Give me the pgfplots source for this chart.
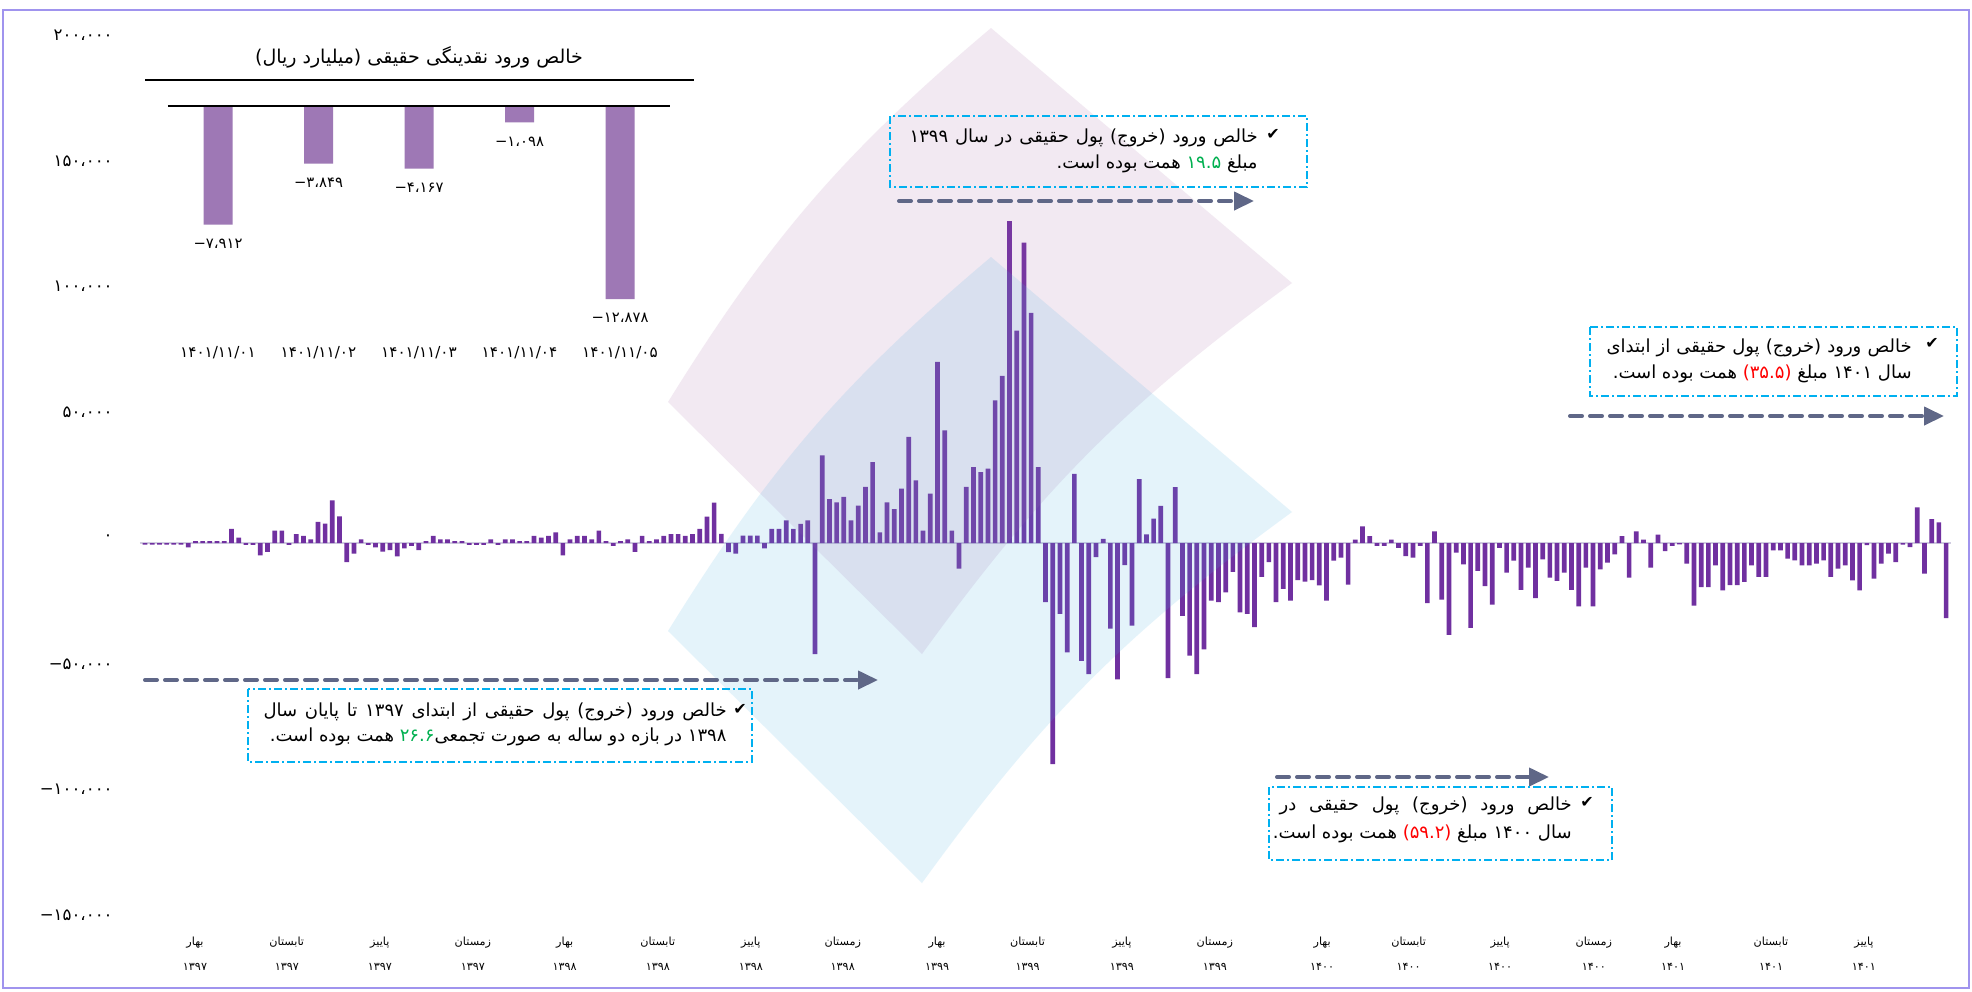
\documentclass[border=0pt]{standalone}
\usepackage{fontspec}
\usepackage{pgfplots}
\pgfplotsset{compat=1.18}
\usetikzlibrary{arrows.meta}
\TeXXeTstate=1
\newfontfamily\fa[Script=Arabic]{DejaVu Sans}
\newfontfamily\sym{DejaVu Sans}
\definecolor{barc}{RGB}{112,48,160}
\definecolor{insetc}{RGB}{158,120,181}
\definecolor{boxc}{RGB}{0,176,240}
\definecolor{arrc}{RGB}{95,103,135}
\definecolor{framec}{RGB}{160,148,238}
\definecolor{pinkc}{RGB}{168,102,168}
\definecolor{bluec}{RGB}{75,175,228}
\definecolor{grn}{RGB}{0,176,80}
\definecolor{rd}{RGB}{255,0,0}
\definecolor{zl}{RGB}{208,204,224}
\newcommand{\fs}[1]{\fontsize{#1}{#1}\selectfont}
\newcommand{\ngt}[1]{\hbox{−}\hbox{#1}}
\begin{document}
\begin{tikzpicture}[x=0.5bp,y=-0.5bp]
\useasboundingbox (0,0) rectangle (1972,991);
\fill[white] (0,0) rectangle (1972,991);
\draw[framec, line width=1bp] (3,10) rectangle (1969,988);

\coordinate (mainSW) at (120,940);
\begin{axis}[at={(mainSW)}, anchor=south west, scale only axis,
  width=920bp, height=460bp, clip=false,
  xmin=-3.47, xmax=251.94, ymin=-157915, ymax=208035,
  axis line style={draw=none}, major tick length=0pt,
  ytick={-150000,-100000,-50000,0,50000,100000,150000,200000},
  yticklabels={\ngt{۱۵۰،۰۰۰},\ngt{۱۰۰،۰۰۰},\ngt{۵۰،۰۰۰},۰,۵۰،۰۰۰,۱۰۰،۰۰۰,۱۵۰،۰۰۰,۲۰۰،۰۰۰},
  yticklabel style={font=\fa\fs{8.3bp}, anchor=east, inner sep=0pt, xshift=-3.5bp, yshift=2.5bp},
  xtick={6.94,19.68,32.59,45.52,58.26,71.18,84.09,96.85,109.94,122.5,135.6,148.5,163.4,175.4,188.1,201.1,212.1,225.7,238.6},
  xticklabels={{بهار\\۱۳۹۷},{تابستان\\۱۳۹۷},{پاییز\\۱۳۹۷},{زمستان\\۱۳۹۷},
    {بهار\\۱۳۹۸},{تابستان\\۱۳۹۸},{پاییز\\۱۳۹۸},{زمستان\\۱۳۹۸},
    {بهار\\۱۳۹۹},{تابستان\\۱۳۹۹},{پاییز\\۱۳۹۹},{زمستان\\۱۳۹۹},
    {بهار\\۱۴۰۰},{تابستان\\۱۴۰۰},{پاییز\\۱۴۰۰},{زمستان\\۱۴۰۰},
    {بهار\\۱۴۰۱},{تابستان\\۱۴۰۱},{پاییز\\۱۴۰۱}},
  xticklabel style={font=\fa\fontsize{5.6bp}{12.5bp}\selectfont, align=center, anchor=center, inner sep=0pt, yshift=-6.75bp},
]
\draw[zl, line width=1bp] (axis cs:-0.7,0) -- (axis cs:250.7,0);
\addplot[ybar, bar width=2.35bp, fill=barc, draw=none] table[x expr=\coordindex, y index=0, header=false] {
-600
-600
-600
-600
-600
-600
-1700
700
700
700
700
700
5600
2100
-700
-700
-4900
-3500
4900
4900
-700
3500
2800
1400
8400
7700
17000
10600
-7600
-4200
1400
-700
-1700
-3400
-2800
-5300
-2100
-1100
-2800
700
2800
1400
1400
700
700
-700
-700
-700
1400
-700
1400
1400
700
700
2800
2100
2800
4200
-4900
1400
2800
2800
1400
4900
700
-1100
700
1400
-3500
2800
700
1400
2800
3500
3500
2800
3500
5600
10500
16100
3600
-3600
-4200
2900
2900
2900
-2100
5600
5600
9000
5600
7600
9000
-44200
34900
17500
16200
18300
9000
14900
22300
32200
4200
16200
13500
21600
42200
24900
4900
19600
72000
44800
4900
-10200
22300
30200
28200
29600
56700
66500
128000
84500
119500
91500
30200
-23500
-88000
-28200
-43500
27500
-46900
-52200
-5600
1600
-34100
-54200
-8800
-32900
25400
3400
9700
14800
-53700
22200
-29000
-44800
-52200
-42300
-22900
-23500
-19600
-11500
-27600
-28200
-33500
-13500
-7600
-23500
-18200
-22900
-14800
-15400
-14800
-16900
-22900
-7000
-5800
-16600
1300
6600
2700
-1100
-1100
1300
-1900
-5200
-5800
-1100
-23900
4600
-22500
-36500
-3800
-8500
-33800
-11100
-17200
-24500
-1900
-11800
-7000
-18600
-9800
-21900
-6500
-13800
-15100
-11800
-18600
-25200
-9800
-25200
-10500
-7800
-4500
2700
-13800
4600
1300
-9800
3300
-3200
-1100
-500
-8200
-24900
-17500
-17500
-8900
-18800
-16800
-16800
-15500
-8900
-13500
-13500
-2900
-2900
-6200
-6900
-8900
-8900
-8200
-6900
-13500
-10200
-8900
-14900
-18800
-800
-14200
-8200
-4200
-7600
-600
-1600
14200
-12200
9500
8200
-29904
};
\end{axis}

% decorative shapes (semi-transparent, on top of bars)
\fill[pinkc, opacity=0.14] (668,402) to[bend left=9] (991,28) -- (1292,283) to[bend right=9] (922,654) -- cycle;
\fill[bluec, opacity=0.15] (668,631) to[bend left=9] (991,257) -- (1292,512) to[bend right=9] (922,883) -- cycle;

% inset
\node[font=\fa\fs{9.5bp}] at (419,57) {\beginR خالص ورود نقدینگی حقیقی (میلیارد ریال)\endR};
\draw[black, line width=1bp] (145,80) -- (694,80);
\coordinate (insSW) at (167.75,316);
\begin{axis}[at={(insSW)}, anchor=south west, scale only axis,
  width=251.25bp, height=105bp, clip=false,
  xmin=0.5, xmax=5.5, ymin=-14000, ymax=0,
  axis line style={draw=none}, major tick length=0pt, ytick=\empty,
  xtick={1,2,3,4,5},
  xticklabels={۱۴۰۱/۱۱/۰۱,۱۴۰۱/۱۱/۰۲,۱۴۰۱/۱۱/۰۳,۱۴۰۱/۱۱/۰۴,۱۴۰۱/۱۱/۰۵},
  xticklabel style={font=\fa\fs{7.6bp}, anchor=center, inner sep=0pt, yshift=-18.5bp},
  point meta=explicit symbolic,
  nodes near coords,
  every node near coord/.append style={font=\fa\fs{7.4bp}, anchor=center, inner sep=0pt, yshift=-9.5bp},
]
\addplot[ybar, bar width=14.5bp, fill=insetc, draw=none] coordinates {
(1,-7912) [\ngt{۷،۹۱۲}]
(2,-3849) [\ngt{۳،۸۴۹}]
(3,-4167) [\ngt{۴،۱۶۷}]
(4,-1098) [\ngt{۱،۰۹۸}]
(5,-12878) [\ngt{۱۲،۸۷۸}]
};
\draw[black, line width=0.8bp] (axis cs:0.5,0) -- (axis cs:5.5,0);
\pgfplotsinvokeforeach{0.5,1.5,2.5,3.5,4.5,5.5}{
  \draw[black, line width=0.8bp] (axis cs:#1,0) ++(0,3.5bp) -- ++(0,-7bp);
}
\end{axis}

% arrows
\tikzset{darr/.style={arrc, line width=2bp, dash pattern=on 6bp off 4bp, line cap=round, -{Triangle[length=10bp,width=9bp]}}}
\draw[darr] (899,201) -- (1254,201);
\draw[darr] (1570,416) -- (1944,416);
\draw[darr] (145,680) -- (878,680);
\draw[darr] (1277,777) -- (1549,777);

% boxes
\tikzset{dbox/.style={boxc, line width=0.8bp, dash pattern=on 4bp off 1.5bp on 1bp off 1.5bp}}
\draw[dbox] (890,116) rectangle (1307,187);
\draw[dbox] (1590,327) rectangle (1957,396);
\draw[dbox] (248,689) rectangle (752,762);
\draw[dbox] (1269,787) rectangle (1612,860);

\tikzset{tl/.style={font=\fa\fs{9bp}, anchor=base east, inner sep=0pt}}
\tikzset{ck/.style={font=\sym\fs{8bp}, inner sep=0pt}}
% box 1
\node[ck] at (1273,134) {✔};
\node[tl] at (1258,142) {\hbox to 174bp{\beginR خالص ورود (خروج) پول حقیقی در سال ۱۳۹۹\endR}};
\node[tl] at (1258,168) {\beginR همت بوده است.\endR\ \textcolor{grn}{۱۹.۵}\ \beginR مبلغ\endR};
% box 2
\node[ck] at (1932,343) {✔};
\node[tl] at (1912,352) {\hbox to 152.5bp{\beginR خالص ورود (خروج) پول حقیقی از ابتدای\endR}};
\node[tl] at (1912,378) {\beginR همت بوده است.\endR\ \textcolor{rd}{(۳۵.۵)}\ \beginR سال ۱۴۰۱ مبلغ\endR};
% box 3
\node[ck] at (740,709) {✔};
\node[tl] at (727,716) {\hbox to 231.5bp{\beginR خالص ورود (خروج) پول حقیقی از ابتدای ۱۳۹۷ تا پایان سال\endR}};
\node[tl] at (727,741) {\beginR همت بوده است.\endR\ \textcolor{grn}{۲۶.۶}\beginR ۱۳۹۸ در بازه دو ساله به صورت تجمعی\endR};
% box 4
\node[ck] at (1587,802) {✔};
\node[tl] at (1572,810) {\hbox to 146bp{\beginR خالص ورود (خروج) پول حقیقی در\endR}};
\node[tl] at (1572,838) {\beginR همت بوده است.\endR\ \textcolor{rd}{(۵۹.۲)}\ \beginR سال ۱۴۰۰ مبلغ\endR};
\end{tikzpicture}
\end{document}
